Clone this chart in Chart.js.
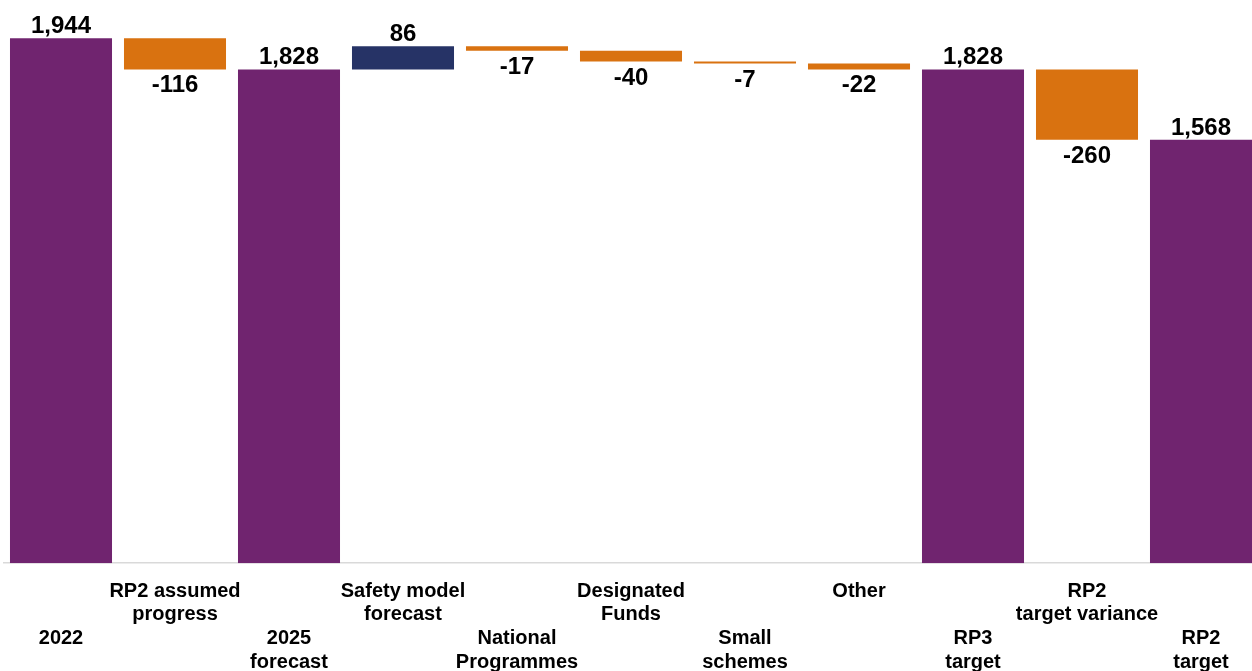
<!DOCTYPE html>
<html>
<head>
<meta charset="utf-8">
<script src="https://cdn.jsdelivr.net/npm/chart.js@4"></script>
<style>
  html, body { margin: 0; padding: 0; background: #ffffff; overflow: hidden; }
  #wrap { position: absolute; left: 0; top: 0; width: 1258px; height: 690px; }
</style>
</head>
<body>
<div id="wrap"><canvas id="c"></canvas></div>
<script>
// ---- data ----
const categoryLines = [
  ['2022'],
  ['RP2 assumed', 'progress'],
  ['2025', 'forecast'],
  ['Safety model', 'forecast'],
  ['National', 'Programmes'],
  ['Designated', 'Funds'],
  ['Small', 'schemes'],
  ['Other'],
  ['RP3', 'target'],
  ['RP2', 'target variance'],
  ['RP2', 'target']
];
const labelRow = [1, 0, 1, 0, 1, 0, 1, 0, 1, 0, 1];
// 'total' = full bar from zero, 'delta' = change from running total
const barKind = ['total', 'delta', 'total', 'delta', 'delta', 'delta', 'delta', 'delta', 'total', 'delta', 'total'];
const values = [1944, -116, 1828, 86, -17, -40, -7, -22, 1828, -260, 1568];

const PURPLE = '#70246F', ORANGE = '#D97210', NAVY = '#263366';

// ---- build floating bars ----
let running = 0;
const floating = [], colors = [], labelsText = [], labelPos = [];
values.forEach((v, i) => {
  if (barKind[i] === 'total') {
    floating.push([0, v]);
    running = v;
    colors.push(PURPLE);
    labelsText.push(v.toLocaleString('en-US'));
    labelPos.push('above');
  } else {
    const start = running, end = running + v;
    floating.push([start, end]);
    running = end;
    colors.push(v < 0 ? ORANGE : NAVY);
    labelsText.push(String(v));
    labelPos.push(v < 0 ? 'below' : 'above');
  }
});
const tickLabels = categoryLines.map((lines, i) => labelRow[i] === 1 ? ['', ''].concat(lines) : lines);

const FONT = 'Arial, "Liberation Sans", sans-serif';

const valueLabels = {
  id: 'valueLabels',
  afterDatasetsDraw(chart) {
    const ctx = chart.ctx;
    const meta = chart.getDatasetMeta(0);
    ctx.save();
    ctx.font = 'bold 24px ' + FONT;
    ctx.fillStyle = '#000000';
    ctx.textAlign = 'center';
    ctx.textBaseline = 'alphabetic';
    meta.data.forEach((bar, i) => {
      const top = Math.min(bar.y, bar.base);
      const bottom = Math.max(bar.y, bar.base);
      if (labelPos[i] === 'above') {
        ctx.fillText(labelsText[i], bar.x, top - 5);
      } else {
        ctx.fillText(labelsText[i], bar.x, bottom + 23);
      }
    });
    ctx.restore();
  }
};

new Chart(document.getElementById('c'), {
  type: 'bar',
  data: {
    labels: tickLabels,
    datasets: [{
      data: floating,
      backgroundColor: colors,
      borderWidth: 0,
      barPercentage: 1,
      categoryPercentage: 0.895
    }]
  },
  options: {
    responsive: true,
    maintainAspectRatio: false,
    animation: false,
    layout: { padding: { left: 4, right: 0, top: 23, bottom: 0 } },
    plugins: { legend: { display: false }, tooltip: { enabled: false } },
    scales: {
      x: {
        grid: { display: false, drawTicks: false },
        border: { display: true, color: '#D9D9D9', width: 1.5 },
        ticks: {
          autoSkip: false,
          maxRotation: 0,
          minRotation: 0,
          padding: 16,
          color: '#000000',
          font: { family: FONT, size: 20, weight: 'bold', lineHeight: 1.185 }
        }
      },
      y: {
        display: false,
        min: 0,
        max: 2000
      }
    }
  },
  plugins: [valueLabels]
});
</script>
</body>
</html>
